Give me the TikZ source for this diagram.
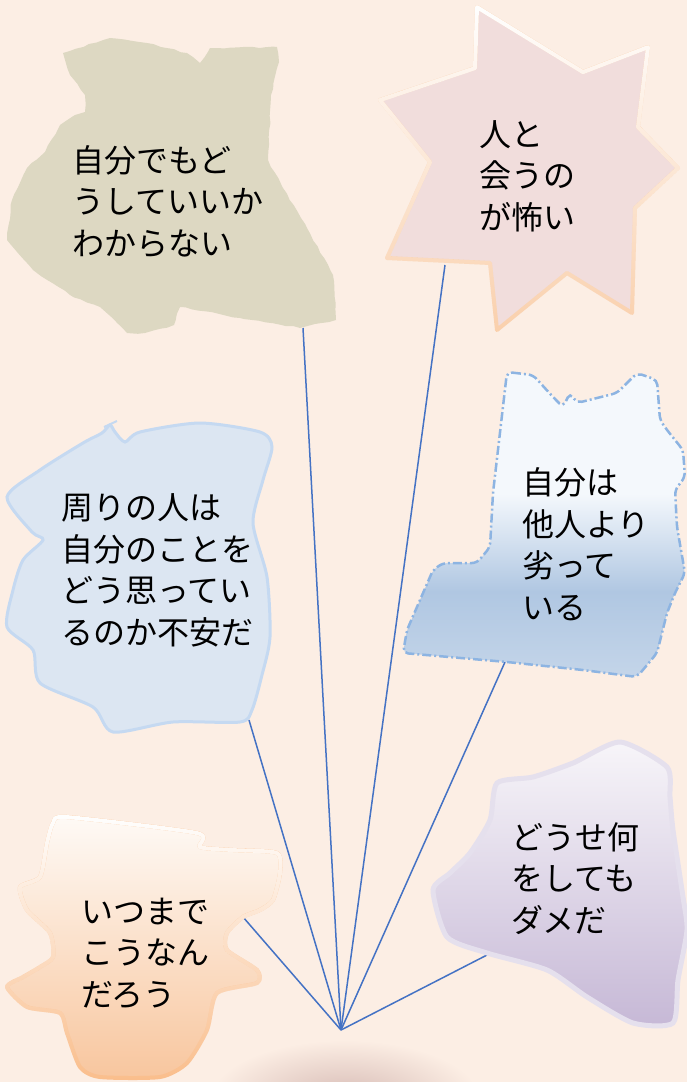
\documentclass[tikz,border=0pt]{standalone}
\usepackage{fontspec}
\newfontfamily\jpfont{Noto Sans CJK JP}
\usetikzlibrary{fadings,decorations.pathmorphing}

\definecolor{paper}{RGB}{252,238,228}
\definecolor{linkblue}{RGB}{68,114,196}
\definecolor{sand}{RGB}{221,216,194}
\definecolor{rose}{RGB}{241,221,220}
\definecolor{peach}{RGB}{250,208,172}
\definecolor{mist}{RGB}{220,230,242}
\definecolor{mistline}{RGB}{197,217,241}
\definecolor{iceTop}{RGB}{244,248,252}
\definecolor{iceMid}{RGB}{176,199,226}
\definecolor{iceBot}{RGB}{196,213,233}
\definecolor{iceline}{RGB}{141,180,226}
\definecolor{creamTop}{RGB}{254,250,246}
\definecolor{creamMid}{RGB}{252,228,208}
\definecolor{creamBot}{RGB}{248,198,158}
\definecolor{orangeline}{RGB}{250,190,140}
\definecolor{lilacTop}{RGB}{247,245,249}
\definecolor{lilacBot}{RGB}{198,184,214}
\definecolor{lilacline}{RGB}{229,224,237}
\definecolor{glow}{RGB}{214,186,180}

\pgfdeclareverticalshading{icefall}{100bp}{color(0bp)=(iceBot); color(25bp)=(iceBot);
  color(39bp)=(iceMid); color(55bp)=(iceTop); color(100bp)=(iceTop)}
\tikzfading[name=washout, top color=transparent!0, bottom color=transparent!100]

\begin{document}
\begin{tikzpicture}[x=1pt, y=-1pt,
        worry/.style={font=\jpfont\fontsize{32pt}{41.5pt}\selectfont, align=left,
            anchor=base west, inner sep=0pt, text=black},
        link/.style={draw=linkblue, line width=1.5pt},
        rim/.style={line width=4pt, line join=round}
    ]

    \useasboundingbox (0,0) rectangle (687,1082);
    \clip (0,0) rectangle (687,1082);
    \fill[paper] (0,0) rectangle (687,1082);
    \shade[inner color=glow, outer color=paper] (345,1100) ellipse (135 and 60);

    % where the connectors meet the blobs
    \coordinate (root) at (341,1030);
    \coordinate (tip-1) at (303,328);
    \coordinate (tip-2) at (445,265);
    \coordinate (tip-3) at (249,720);
    \coordinate (tip-4) at (505,662);
    \coordinate (tip-5) at (243,917);
    \coordinate (tip-6) at (487,955);

    \foreach \i in {1, ..., 6} {
            \draw[link] (root) -- (tip-\i);
        }

    % top left
    \fill[sand, decorate, decoration={random steps, segment length=7pt, amplitude=0.8pt}]
        (63,53) -- (110,38) -- (147,43) -- (187,53) -- (200,63) -- (210,48) -- (277,47)
        -- (279,62) -- (271,95) -- (268,160) -- (283,188) -- (307,228) -- (333,275)
        -- (336,320) -- (300,328) -- (240,318) -- (180,307) -- (174,325) -- (145,333)
        -- (127,333) -- (100,307) -- (70,295) -- (33,270) -- (7,240) -- (12,200)
        -- (27,168) -- (45,152) -- (60,125) -- (75,115) -- (85,112) -- (85,95) -- (70,75) -- cycle;

    % star
    \def\starpath{(477,7) -- (583,72) -- (648,47) -- (638,127) -- (678,168) -- (635,208)
        -- (632,313) -- (567,273) -- (497,330) -- (490,263) -- (387,258) -- (430,162)
        -- (380,100) -- (475,68) -- cycle}
    \filldraw[fill=rose, draw=peach, rim] \starpath;
    \draw[white, rim, path fading=washout] \starpath;

    % middle left
    \filldraw[fill=mist, draw=mistline, line width=3pt] plot[smooth cycle, tension=0.45] coordinates {
        (7,497) (32,532) (43,540) (23,560) (13,590) (7,627) (33,650) (40,683) (93,707)
        (113,732) (173,722) (240,722) (252,710) (262,675) (270,637) (267,577) (253,523)
        (263,480) (272,447) (260,432) (200,423) (140,432) (125,442) (115,432) (110,425)
        (102,433) (83,443) (40,470)};
    \draw[mistline, line width=2pt] (104,427) -- (117,421);

    % middle right
    \path[shading=icefall, draw=iceline, line width=2.5pt, dash pattern=on 9pt off 3pt on 2pt off 3pt,
        rounded corners=5pt]
        (507,372) -- (533,375) -- (553,397) -- (563,407) -- (570,393) -- (577,403) -- (617,393)
        -- (637,373) -- (657,380) -- (660,420) -- (667,430) -- (683,450) -- (685,477) -- (675,490)
        -- (677,527) -- (685,573) -- (675,593) -- (667,613) -- (657,653) -- (637,677) -- (583,670)
        -- (507,662) -- (403,653) -- (407,630) -- (433,570) -- (443,563) -- (477,563) -- (490,547)
        -- (493,493) -- cycle;

    % bottom left
    \def\lowpath{plot[smooth cycle, tension=0.4] coordinates {
        (53,823) (67,817) (197,833) (200,847) (233,850) (277,853) (280,873) (273,900) (260,910)
        (243,917) (227,933) (227,950) (257,970) (257,983) (217,993) (207,1030) (187,1063)
        (160,1077) (100,1077) (80,1067) (67,1033) (60,1013) (27,1007) (7,987) (23,977) (40,967)
        (53,957) (50,933) (27,910) (20,887) (40,877) (47,843)}}
    \path[top color=creamTop, middle color=creamMid, bottom color=creamBot] \lowpath;
    \draw[orangeline, rim] \lowpath;
    \draw[white, rim, path fading=washout] \lowpath;

    % bottom right
    \path[top color=lilacTop, bottom color=lilacBot, draw=lilacline, line width=5pt]
        plot[smooth cycle, tension=0.4] coordinates {
        (620,742) (667,767) (670,797) (673,830) (683,897) (687,930) (678,980) (673,1023)
        (633,1023) (587,997) (547,970) (487,953) (447,937) (433,890) (450,873) (470,853)
        (490,820) (497,783) (533,777) (573,763)};

    % the anchor is the baseline of the last line
    \node[worry] (worry-1) at (72,255) {自分でもど\\うしていいか\\わからない};
    \node[worry] (worry-2) at (479,229) {人と\\会うの\\が怖い};
    \node[worry] (worry-3) at (61,644) {周りの人は\\自分のことを\\どう思ってい\\るのか不安だ};
    \node[worry] (worry-4) at (522,619) {自分は\\他人より\\劣って\\いる};
    \node[worry] (worry-5) at (81,1006) {いつまで\\こうなん\\だろう};
    \node[worry] (worry-6) at (511,932) {どうせ何\\をしても\\ダメだ};

\end{tikzpicture}
\end{document}
